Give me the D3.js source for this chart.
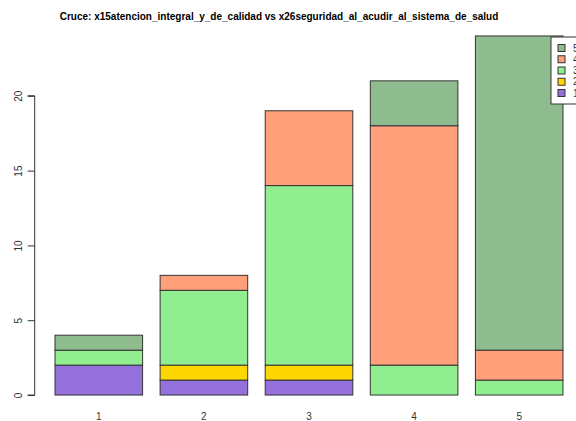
<!DOCTYPE html>
<html><head><meta charset="utf-8">
<script src="https://cdn.jsdelivr.net/npm/d3@7"></script>
<style>body{margin:0;background:#fff;overflow:hidden}svg{display:block}</style>
</head><body>
<svg id="c" width="576" height="421"></svg>
<script>
const categories = ["1","2","3","4","5"];
const seriesKeys = ["1","2","3","4","5"]; // stacked bottom to top
const s1 = [2,1,1,0,0];
const s2 = [0,1,1,0,0];
const s3 = [1,5,12,2,1];
const s4 = [0,1,5,16,2];
const s5 = [1,0,0,3,21];
const yTicks = [0,5,10,15,20];
const legendLabels = ["5","4","3","2","1"];
const colors = {"1":"#9370DB","2":"#FFD700","3":"#90EE90","4":"#FFA07A","5":"#8FBC8F"};
const title = "Cruce: x15atencion_integral_y_de_calidad vs x26seguridad_al_acudir_al_sistema_de_salud";

const table = categories.map((c,i)=>({cat:c,"1":s1[i],"2":s2[i],"3":s3[i],"4":s4[i],"5":s5[i]}));
const svg = d3.select("#c");
const font = "Liberation Sans, Arial, sans-serif";

// R-like barplot: bars at [0.2+1.2i, 1.2+1.2i], usr extended by 4%
const xmin = 0.2, xmax = 6.0, xr = (xmax-xmin)*0.04;
const x = d3.scaleLinear().domain([xmin - xr, xmax + xr]).range([34.7, 583.3]);
const y = d3.scaleLinear().domain([-0.96, 24.96]).range([409.4, 21.6]);

const stack = d3.stack().keys(seriesKeys)(table);
const g = svg.append("g");
stack.forEach(layer=>{
  g.selectAll(null).data(layer.filter(d=>d[1]-d[0]>0)).enter().append("rect")
    .attr("x", (d)=>x(0.2+1.2*categories.indexOf(d.data.cat)))
    .attr("width", x(1)-x(0))
    .attr("y", d=>y(d[1]))
    .attr("height", d=>y(d[0])-y(d[1]))
    .attr("fill", colors[layer.key])
    .attr("stroke", "#333").attr("stroke-width", 1);
});

// y axis
const yAxis = d3.axisLeft(y).tickValues(yTicks).tickSize(7).tickPadding(4);
const ya = svg.append("g").attr("transform","translate(34.7,0)").call(yAxis);
ya.select(".domain").attr("d", `M-7,${y(0)}H0V${y(20)}H-7`).attr("stroke","#333");
ya.selectAll(".tick line").attr("stroke","#333");
ya.selectAll(".tick text").attr("font-family",font).attr("font-size",10).attr("fill","#333")
  .attr("text-anchor","middle").attr("x",0).attr("dy",0)
  .attr("transform", d=>`translate(-17,0) rotate(-90)`)
  .attr("y", 4);

// x labels
svg.selectAll(null).data(categories).enter().append("text")
  .attr("x",(d,i)=>x(0.7+1.2*i)).attr("y",420)
  .attr("text-anchor","middle").attr("font-family",font).attr("font-size",10).attr("fill","#333")
  .text(d=>d);

// title
svg.append("text").attr("x",279).attr("y",19.5).attr("text-anchor","middle")
  .attr("font-family",font).attr("font-size",10).attr("font-weight","bold").attr("fill","#000")
  .text(title);

// legend
const lg = svg.append("g");
lg.append("rect").attr("x",551).attr("y",37).attr("width",60).attr("height",67)
  .attr("fill","#fff").attr("stroke","#333");
legendLabels.forEach((k,i)=>{
  const cy = 48 + i*11.25;
  lg.append("rect").attr("x",558).attr("y",cy-3.5).attr("width",7).attr("height",7)
    .attr("fill",colors[k]).attr("stroke","#333");
  lg.append("text").attr("x",573).attr("y",cy+3.5).attr("font-family",font).attr("font-size",10)
    .attr("fill","#333").text(k);
});
</script>
</body></html>
